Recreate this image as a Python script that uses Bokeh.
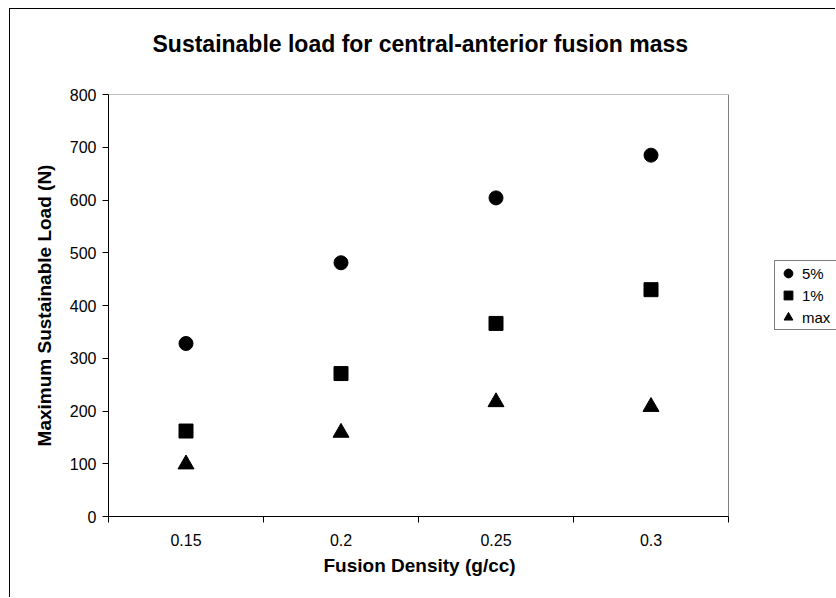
from bokeh.plotting import figure
from bokeh.models import (ColumnDataSource, FixedTicker, Legend, LegendItem,
                          LinearAxis, Range1d, Title)
from bokeh.embed import file_html
from bokeh.resources import INLINE

# ---- data ----
categories = ["0.15", "0.2", "0.25", "0.3"]
load_5pct = [328, 481, 604, 685]
load_1pct = [162, 271, 366, 430]
load_max = [99, 159, 217, 208]
y_ticks = [0, 100, 200, 300, 400, 500, 600, 700, 800]
series_labels = ["5%", "1%", "max"]

FONT = "Liberation Sans"

# ---- layout constants (pixels) ----
FIG_W, FIG_H = 826, 589
LEFT, TOP, BOTTOM = 98, 85, 82
PLOT_W = 620                      # width of the plot area inside the frame
FRAME_W = FIG_W - LEFT            # frame reaches the right edge (legend lives there)

n = len(categories)
xs = [i + 0.5 for i in range(n)]
x_end = n * FRAME_W / PLOT_W
y_top = y_ticks[-1]

src = ColumnDataSource(dict(x=xs, cat=categories, p5=load_5pct,
                            p1=load_1pct, pmax=load_max))

p = figure(width=FIG_W, height=FIG_H, output_backend="svg", toolbar_location=None,
           x_range=Range1d(0, x_end), y_range=Range1d(0, y_top),
           x_axis_location=None, y_axis_location=None,
           min_border_left=LEFT, min_border_right=0,
           min_border_top=TOP, min_border_bottom=BOTTOM)
p.styles = {"margin-left": "9px", "margin-top": "8px",
            "border-left": "1px solid #000000", "border-top": "1px solid #000000"}
p.grid.visible = False
p.background_fill_color = "white"
p.border_fill_color = "white"
p.outline_line_color = None

p.title.text = "Sustainable load for central-anterior fusion mass"
p.title.align = "left"
p.title.offset = 44
p.title.text_font = FONT
p.title.text_font_size = "23px"
p.title.text_font_style = "bold"
p.title.text_color = "black"
p.title.standoff = 0
p.title.padding = {"left": 0, "right": 0, "top": 0, "bottom": 38}

# plot-area border (grey, like the spreadsheet chart)
p.quad(left=[0], right=[n], bottom=[0], top=[y_top],
       fill_color=None, line_color="#808080", line_width=1)

yaxis = LinearAxis(ticker=FixedTicker(ticks=y_ticks),
                   axis_label="Maximum Sustainable Load (N)")
yaxis.axis_line_color = "black"
yaxis.major_tick_out = 6
yaxis.major_tick_in = 0
yaxis.minor_tick_out = 0
yaxis.minor_tick_in = 0
yaxis.major_label_standoff = 6
yaxis.major_label_text_font = FONT
yaxis.major_label_text_font_size = "16px"
yaxis.major_label_text_color = "black"
yaxis.axis_label_text_font = FONT
yaxis.axis_label_text_font_size = "19px"
yaxis.axis_label_text_font_style = "bold"
yaxis.axis_label_text_color = "black"
yaxis.axis_label_standoff = 12
p.add_layout(yaxis, "left")

xaxis = LinearAxis(ticker=FixedTicker(ticks=xs, minor_ticks=list(range(n + 1))),
                   bounds=(0, n))
xaxis.major_label_overrides = {x: c for x, c in zip(xs, categories)}
xaxis.axis_line_color = "black"
xaxis.major_tick_out = 0
xaxis.major_tick_in = 0
xaxis.minor_tick_out = 6
xaxis.minor_tick_in = 0
xaxis.minor_tick_line_color = "black"
xaxis.major_label_standoff = 11
xaxis.major_label_text_font = FONT
xaxis.major_label_text_font_size = "16px"
xaxis.major_label_text_color = "black"
p.add_layout(xaxis, "below")

# x-axis title, centred under the plot area (not under the wider frame)
xtitle = Title(text="Fusion Density (g/cc)", align="left", offset=215,
               text_font=FONT, text_font_size="19px", text_font_style="bold",
               text_color="black", standoff=0,
               padding={"left": 0, "right": 0, "top": 4, "bottom": 0})
p.add_layout(xtitle, "below")

r1 = p.scatter("x", "p5", source=src, marker="circle", size=14,
               fill_color="black", line_color="black")
r2 = p.scatter("x", "p1", source=src, marker="square", size=14,
               fill_color="black", line_color="black")
r3 = p.scatter("x", "pmax", source=src, marker="triangle", size=16,
               fill_color="black", line_color="black")

legend = Legend(items=[LegendItem(label=series_labels[0], renderers=[r1]),
                       LegendItem(label=series_labels[1], renderers=[r2]),
                       LegendItem(label=series_labels[2], renderers=[r3])],
                location=(666, 186))
legend.border_line_color = "black"
legend.border_line_width = 1
legend.background_fill_color = "white"
legend.background_fill_alpha = 1
legend.padding = 1
legend.margin = 0
legend.spacing = 0
legend.glyph_width = 24
legend.glyph_height = 22
legend.label_height = 22
legend.label_width = 40
legend.label_standoff = 2
legend.label_text_font = FONT
legend.label_text_font_size = "15px"
legend.label_text_color = "black"
p.add_layout(legend, "center")

open("out.html", "w").write(file_html(p, INLINE))
